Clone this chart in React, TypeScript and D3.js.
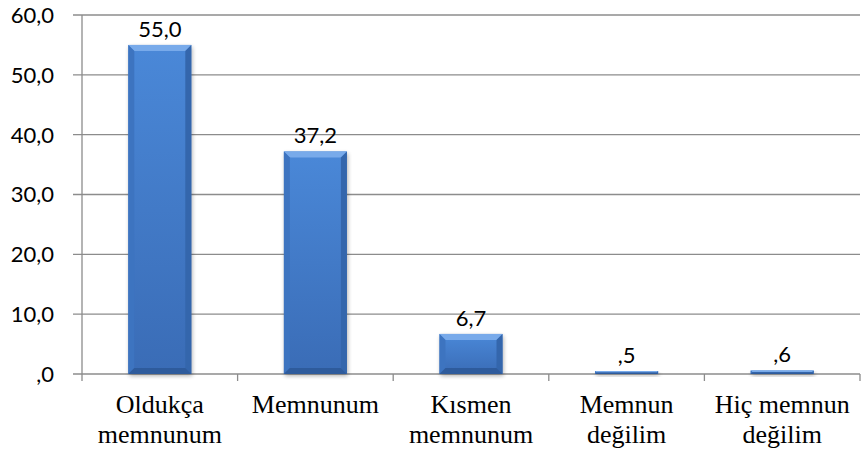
import React from "react";
import * as d3 from "d3";

const categories: string[][] = [
  ["Oldukça", "memnunum"],
  ["Memnunum"],
  ["Kısmen", "memnunum"],
  ["Memnun", "değilim"],
  ["Hiç memnun", "değilim"],
];
const values: number[] = [55.0, 37.2, 6.7, 0.5, 0.6];
const yTicks: number[] = [0, 10, 20, 30, 40, 50, 60];

const fmt = (v: number) => v.toFixed(1).replace(".", ",").replace(/^0/, "");

export default function App() {
  const W = 861, H = 455;
  const left = 82, right = 860, top = 15, bottom = 374;
  const y = d3.scaleLinear().domain([0, 60]).range([bottom, top]);
  const x = d3
    .scaleBand<number>()
    .domain(values.map((_, i) => i))
    .range([left, right])
    .paddingInner(0.595)
    .paddingOuter(0.2975);
  const step = (right - left) / values.length;
  const bw = x.bandwidth();
  const grid = "#8c8c8c";

  return (
    <svg width={W} height={H} style={{ position: "absolute", left: 0, top: 0 }}>
      <defs>
        <linearGradient id="barV" x1="0" y1="0" x2="0" y2="1">
          <stop offset="0" stopColor="#4a88d8" />
          <stop offset="1" stopColor="#3a6cb6" />
        </linearGradient>
        <filter id="shadow" x="-20%" y="-20%" width="140%" height="140%">
          <feGaussianBlur stdDeviation="2" />
        </filter>
      </defs>
      {yTicks.map((t) => (
        <line key={t} x1={left - 9} x2={right} y1={y(t)} y2={y(t)} stroke={grid} strokeWidth={1.3} />
      ))}
      <line x1={left} x2={left} y1={top} y2={bottom} stroke={grid} strokeWidth={1.3} />
      {d3.range(values.length + 1).map((i) => (
        <line key={i} x1={left + i * step} x2={left + i * step} y1={bottom} y2={bottom + 7} stroke={grid} strokeWidth={1.3} />
      ))}
      {yTicks.map((t) => (
        <text key={t} x={54} y={y(t)} dy="0.36em" textAnchor="end" fontFamily="Lato" fontSize={22} fill="#000">
          {fmt(t)}
        </text>
      ))}
      {values.map((v, i) => {
        const x0 = x(i)!;
        const y0 = y(v);
        const h = bottom - y0;
        const b = Math.min(6, h / 2);
        const x1 = x0 + bw;
        return (
          <g key={i}>
            <rect x={x0 + 1} y={y0 + 2} width={bw} height={h} fill="#000" opacity={0.3} filter="url(#shadow)" />
            <rect x={x0} y={y0} width={bw} height={h} fill="url(#barV)" />
            <polygon points={`${x0},${y0} ${x1},${y0} ${x1 - b},${y0 + b} ${x0 + b},${y0 + b}`} fill="#78aaea" />
            <polygon points={`${x0},${y0} ${x0 + b},${y0 + b} ${x0 + b},${bottom - b} ${x0},${bottom}`} fill="#3d74c0" />
            <polygon points={`${x1},${y0} ${x1 - b},${y0 + b} ${x1 - b},${bottom - b} ${x1},${bottom}`} fill="#3466ac" />
            <polygon points={`${x0},${bottom} ${x0 + b},${bottom - b} ${x1 - b},${bottom - b} ${x1},${bottom}`} fill="#2e5b9c" />
            <text x={x0 + bw / 2} y={y0 - 8} textAnchor="middle" fontFamily="Lato" fontSize={22} fill="#000">
              {fmt(v)}
            </text>
          </g>
        );
      })}
      {categories.map((lines, i) => (
        <text key={i} textAnchor="middle" fontFamily="Liberation Serif" fontSize={26} fill="#000">
          {lines.map((l, j) => (
            <tspan key={j} x={x(i)! + bw / 2} y={413 + j * 30}>
              {l}
            </tspan>
          ))}
        </text>
      ))}
    </svg>
  );
}
